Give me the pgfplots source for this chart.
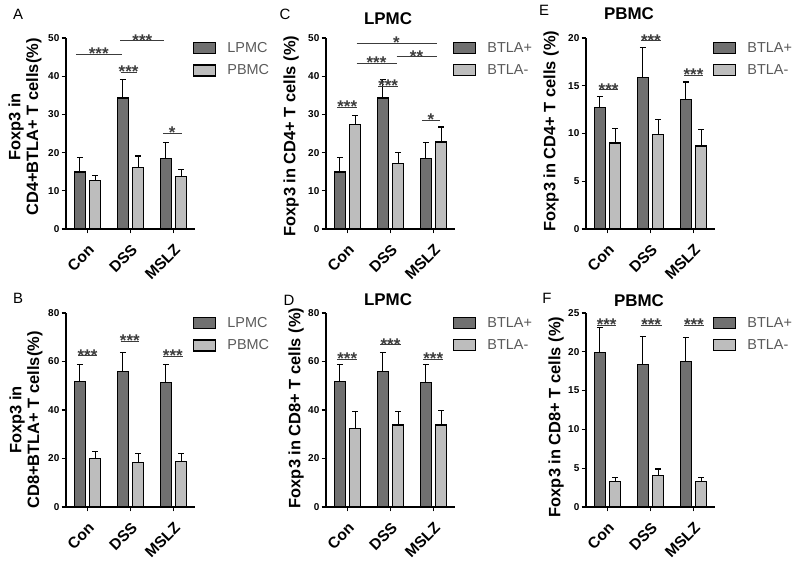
\documentclass[border=0pt]{standalone}
\usepackage{fontspec}
\setmainfont{Liberation Sans}
\usepackage{pgfplots}
\pgfplotsset{compat=1.18}
\definecolor{darkbar}{HTML}{707070}
\definecolor{lightbar}{HTML}{BDBDBD}
\definecolor{leggray}{HTML}{5A5A5A}
\definecolor{siggray}{HTML}{3C3C3C}

\newcommand{\sig}[4]{\draw[siggray, line width=1bp] (axis cs:#1,#3) -- (axis cs:#2,#3) node[midway, anchor=base, yshift=-5.5bp, inner sep=0pt, font=\fontsize{17}{17}\selectfont\bfseries, text=siggray] {#4};}

\pgfplotsset{
 panel/.style={
  scale only axis, width=129bp, height=191bp,
  xmin=-0.5, xmax=2.5, ymin=0,
  axis lines=left, axis line style={-, line width=1.6bp},
  tick align=outside, major tick length=4.5bp,
  tick style={black, line width=1.3bp},
  xtick={0,1,2}, xticklabels={Con,DSS,MSLZ},
  xticklabel style={rotate=45, anchor=north east, font=\fontsize{15.5}{17}\selectfont\bfseries, inner sep=1bp},
  xticklabel shift=8bp,
  yticklabel style={font=\fontsize{10}{12}\selectfont\bfseries, inner sep=2bp},
  /pgf/number format/assume math mode=true,
  clip=false,
  legend style={draw=none, fill=none, at={(1,1)}, anchor=north west, xshift=-2bp, yshift=-2bp,
    font=\fontsize{14.5}{16}\selectfont, text=leggray, row sep=7bp, inner sep=0pt,
    nodes={inner sep=2bp}},
  legend cell align=left,
 },
 barcommon/.style={ybar, bar width=0.26, bar shift=0pt, draw=black, line width=1.2bp,
  legend image code/.code={\draw[##1, line width=1.2bp] (0bp,-5.5bp) rectangle (22bp,5.5bp); \path (31bp,0bp);},
  /pgfplots/error bars/y dir=plus, /pgfplots/error bars/y explicit,
  /pgfplots/error bars/error bar style={black, line width=1.2bp},
  /pgfplots/error bars/error mark options={rotate=90, mark size=3bp, black, line width=1.2bp}},
 dk/.style={fill=darkbar, barcommon},
 lt/.style={fill=lightbar, barcommon},
}

\begin{document}
\begin{tikzpicture}
\useasboundingbox (0,0) rectangle (800bp,571bp);

% ---------------- A ----------------
\begin{axis}[panel, at={(66bp,342bp)}, anchor=south west, ymax=50, ytick={0,10,...,50}]
\addplot[dk] coordinates {(-0.18,14.9) +- (0,3.8) (0.82,34.3) +- (0,4.9) (1.82,18.4) +- (0,4.2)};
\addlegendentry{LPMC}
\addplot[lt] coordinates {(0.18,12.8) +- (0,1.3) (1.18,16.0) +- (0,3.1) (2.18,13.8) +- (0,1.8)};
\addlegendentry{PBMC}
\sig{-0.27}{0.795}{45.7}{***}
\sig{0.76}{1.79}{49.3}{***}
\sig{0.77}{1.14}{41.0}{***}
\sig{1.75}{2.19}{25.0}{*}
\end{axis}

% ---------------- C ----------------
\begin{axis}[panel, at={(326bp,342bp)}, anchor=south west, ymax=50, ytick={0,10,...,50}]
\addplot[dk] coordinates {(-0.18,14.9) +- (0,3.8) (0.82,34.3) +- (0,4.9) (1.82,18.4) +- (0,4.2)};
\addlegendentry{BTLA+}
\addplot[lt] coordinates {(0.18,27.4) +- (0,2.4) (1.18,17.1) +- (0,2.9) (2.18,22.8) +- (0,3.9)};
\addlegendentry{BTLA-}
\sig{-0.24}{0.23}{31.9}{***}
\sig{0.72}{1.17}{37.4}{***}
\sig{1.73}{2.15}{28.5}{*}
\sig{0.21}{1.14}{43.4}{***}
\sig{1.14}{2.07}{45.1}{**}
\sig{0.21}{2.07}{48.6}{*}
\end{axis}

% ---------------- E ----------------
\begin{axis}[panel, at={(586bp,342bp)}, anchor=south west, ymax=20, ytick={0,5,...,20}]
\addplot[dk] coordinates {(-0.18,12.7) +- (0,1.2) (0.82,15.9) +- (0,3.1) (1.82,13.6) +- (0,1.8)};
\addlegendentry{BTLA+}
\addplot[lt] coordinates {(0.18,9.0) +- (0,1.5) (1.18,9.9) +- (0,1.6) (2.18,8.7) +- (0,1.7)};
\addlegendentry{BTLA-}
\sig{-0.2}{0.25}{14.6}{***}
\sig{0.77}{1.25}{19.7}{***}
\sig{1.78}{2.22}{16.1}{***}
\end{axis}

% ---------------- B ----------------
\begin{axis}[panel, height=194bp, at={(66bp,64bp)}, anchor=south west, ymax=80, ytick={0,20,...,80}]
\addplot[dk] coordinates {(-0.18,51.7) +- (0,6.9) (0.82,55.9) +- (0,7.8) (1.82,51.3) +- (0,7.3)};
\addlegendentry{LPMC}
\addplot[lt] coordinates {(0.18,20.0) +- (0,3.0) (1.18,18.3) +- (0,3.8) (2.18,18.9) +- (0,3.2)};
\addlegendentry{PBMC}
\sig{-0.21}{0.21}{62.3}{***}
\sig{0.77}{1.20}{68.3}{***}
\sig{1.76}{2.21}{62.1}{***}
\end{axis}

% ---------------- D ----------------
\begin{axis}[panel, height=194bp, at={(326bp,64bp)}, anchor=south west, ymax=80, ytick={0,20,...,80}]
\addplot[dk] coordinates {(-0.18,51.7) +- (0,6.9) (0.82,55.9) +- (0,7.8) (1.82,51.3) +- (0,7.3)};
\addlegendentry{BTLA+}
\addplot[lt] coordinates {(0.18,32.4) +- (0,6.9) (1.18,33.8) +- (0,5.5) (2.18,33.8) +- (0,5.9)};
\addlegendentry{BTLA-}
\sig{-0.24}{0.23}{61.0}{***}
\sig{0.76}{1.24}{66.9}{***}
\sig{1.76}{2.23}{61.0}{***}
\end{axis}

% ---------------- F ----------------
\begin{axis}[panel, height=194bp, at={(586bp,64bp)}, anchor=south west, ymax=25, ytick={0,5,...,25}]
\addplot[dk] coordinates {(-0.18,19.9) +- (0,3.2) (0.82,18.4) +- (0,3.6) (1.82,18.7) +- (0,3.1)};
\addlegendentry{BTLA+}
\addplot[lt] coordinates {(0.18,3.3) +- (0,0.5) (1.18,4.1) +- (0,0.8) (2.18,3.3) +- (0,0.5)};
\addlegendentry{BTLA-}
\sig{-0.24}{0.2}{23.4}{***}
\sig{0.77}{1.26}{23.4}{***}
\sig{1.78}{2.24}{23.4}{***}
\end{axis}

% ---------------- panel letters ----------------
\begin{scope}[every node/.style={font=\fontsize{15}{15}\selectfont, inner sep=0pt}]
\node at (18bp,557bp) {A};
\node at (18bp,273bp) {B};
\node at (285bp,557bp) {C};
\node at (289bp,271bp) {D};
\node at (544bp,561bp) {E};
\node at (547bp,273bp) {F};
\end{scope}

% ---------------- titles ----------------
\begin{scope}[every node/.style={font=\fontsize{17}{17}\selectfont\bfseries, inner sep=0pt}]
\node at (388bp,552bp) {LPMC};
\node at (629bp,557bp) {PBMC};
\node at (388bp,271bp) {LPMC};
\node at (639bp,270bp) {PBMC};
\end{scope}

% ---------------- y labels ----------------
\begin{scope}[every node/.style={font=\fontsize{16.5}{18}\selectfont\bfseries, inner sep=0pt, rotate=90, align=center}]
\node at (25bp,444bp) {Foxp3 in\\CD4+BTLA+ T cells(\%)};
\node at (26bp,151bp) {Foxp3 in\\CD8+BTLA+ T cells(\%)};
\node at (291bp,435bp) {Foxp3 in CD4+ T cells (\%)};
\node at (296bp,163bp) {Foxp3 in CD8+ T cells (\%)};
\node at (551bp,440bp) {Foxp3 in CD4+ T cells (\%)};
\node at (556bp,154bp) {Foxp3 in CD8+ T cells (\%)};
\end{scope}
\end{tikzpicture}
\end{document}
